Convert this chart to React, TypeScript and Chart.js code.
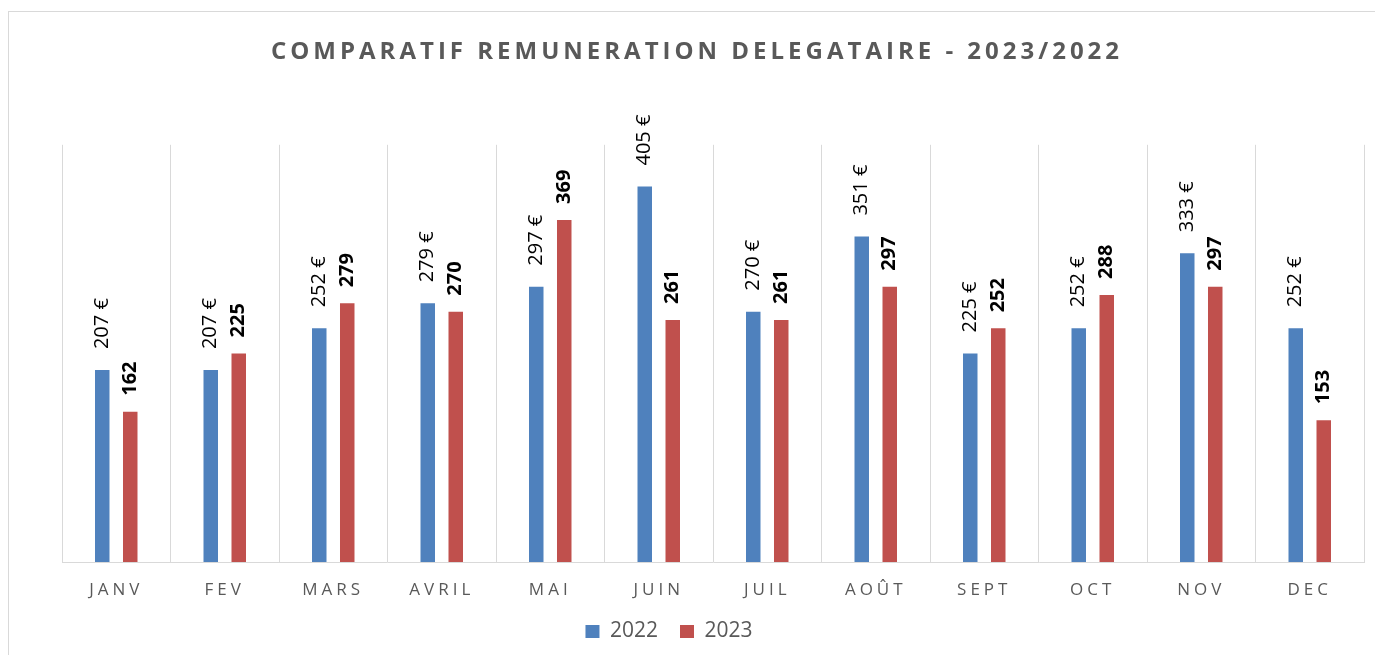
import React, { useEffect, useRef } from 'react';
import { Chart, registerables } from 'chart.js';

Chart.register(...registerables);

const months = ['JANV', 'FEV', 'MARS', 'AVRIL', 'MAI', 'JUIN', 'JUIL', 'AOÛT', 'SEPT', 'OCT', 'NOV', 'DEC'];
const values2022 = [207, 207, 252, 279, 297, 405, 270, 351, 225, 252, 333, 252];
const values2023 = [162, 225, 279, 270, 369, 261, 261, 297, 252, 288, 297, 153];
const seriesNames = ['2022', '2023'];
const titleText = 'COMPARATIF REMUNERATION DELEGATAIRE - 2023/2022';
const yMax = 450;

const FONT = '"Open Sans", "DejaVu Sans", sans-serif';

const labelPlugin = {
  id: 'barLabels',
  afterLayout(chart: any) {
    const lg = chart.legend;
    if (lg) {
      lg.left -= 44;
      lg.right -= 44;
      lg.top -= 19;
      lg.bottom -= 19;
    }
    const tb = chart.titleBlock;
    if (tb) {
      tb.left -= 16;
      tb.right -= 16;
    }
  },
  beforeDraw(chart: any) {
    const tb = chart.titleBlock;
    if (tb && !tb.__spaced) {
      const orig = tb.draw.bind(tb);
      tb.draw = (area: any) => {
        const c = chart.ctx;
        c.save();
        c.letterSpacing = '4px';
        orig(area);
        c.restore();
      };
      tb.__spaced = true;
    }
    chart.ctx.letterSpacing = '0px';
  },
  afterDatasetsDraw(chart: any) {
    const ctx = chart.ctx;
    chart.data.datasets.forEach((ds: any, di: number) => {
      const meta = chart.getDatasetMeta(di);
      meta.data.forEach((bar: any, i: number) => {
        const v = ds.data[i];
        const text = di === 0 ? `${v} €` : `${v}`;
        ctx.save();
        ctx.letterSpacing = '0px';
        ctx.translate(bar.x, bar.y - (di === 0 ? 21 : 16));
        ctx.rotate(-Math.PI / 2);
        ctx.font = (di === 0 ? '' : 'bold ') + '20px ' + FONT;
        ctx.fillStyle = '#000000';
        ctx.textAlign = 'left';
        ctx.textBaseline = 'middle';
        ctx.fillText(text, 0, 0);
        ctx.restore();
      });
    });
    ctx.letterSpacing = '4px';
  },
  afterDraw(chart: any) {
    chart.ctx.letterSpacing = '0px';
  },
};

export default function App() {
  const canvasRef = useRef<HTMLCanvasElement | null>(null);

  useEffect(() => {
    if (!canvasRef.current) return;
    const chart = new Chart(canvasRef.current, {
      type: 'bar',
      data: {
        labels: months,
        datasets: [
          {
            label: seriesNames[0],
            data: values2022,
            backgroundColor: '#4F81BD',
            borderWidth: 0,
            barPercentage: 0.518,
            categoryPercentage: 0.516,
          },
          {
            label: seriesNames[1],
            data: values2023,
            backgroundColor: '#C0504D',
            borderWidth: 0,
            barPercentage: 0.518,
            categoryPercentage: 0.516,
          },
        ],
      },
      options: {
        animation: false,
        responsive: true,
        maintainAspectRatio: false,
        layout: { padding: { left: 53, right: 11, top: 0, bottom: -16 } },
        plugins: {
          title: {
            display: true,
            text: titleText,
            color: '#595959',
            font: { family: FONT, size: 24, weight: 'bold' },
            padding: { top: 26, bottom: 78 },
          },
          legend: {
            position: 'bottom',
            labels: {
              color: '#595959',
              font: { family: FONT, size: 21 },
              boxWidth: 14,
              boxHeight: 13,
              padding: 22,
            },
          },
          tooltip: { enabled: false },
        },
        scales: {
          x: {
            grid: { display: true, color: '#d9d9d9', drawTicks: false, offset: true },
            border: { color: '#d9d9d9' },
            ticks: {
              color: '#595959',
              font: { family: FONT, size: 17, lineHeight: 1 },
              padding: 19.5,
              z: 1,
            },
          },
          y: { display: false, min: 0, max: yMax },
        },
      },
      plugins: [labelPlugin],
    });
    return () => chart.destroy();
  }, []);

  return (
    <div
      style={{
        position: 'fixed',
        left: 8,
        top: 11,
        width: 1367,
        height: 644,
        boxSizing: 'border-box',
        borderTop: '1px solid #d9d9d9',
        borderLeft: '1px solid #d9d9d9',
        background: '#ffffff',
      }}
    >
      <div style={{ position: 'relative', width: '100%', height: '100%' }}>
        <canvas ref={canvasRef} />
      </div>
    </div>
  );
}
